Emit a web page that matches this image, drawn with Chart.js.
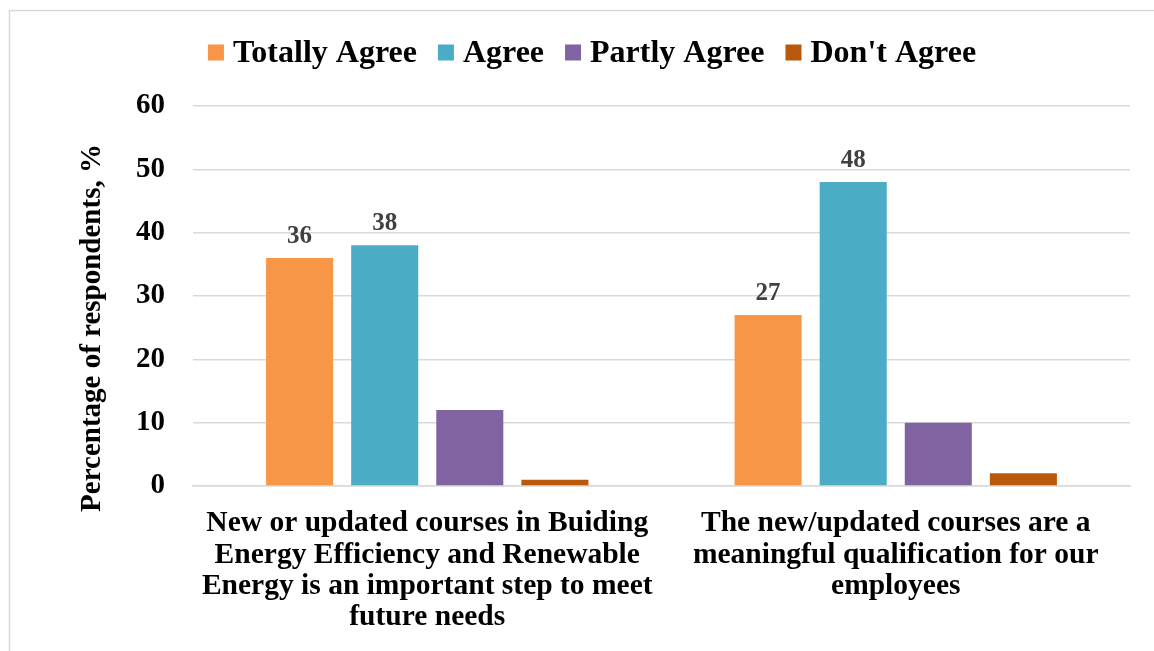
<!DOCTYPE html>
<html>
<head>
<meta charset="utf-8">
<style>
  html, body { margin: 0; padding: 0; background: #ffffff; }
  #wrap { position: relative; width: 1154px; height: 651px; }
</style>
<script src="https://cdn.jsdelivr.net/npm/chart.js@4/dist/chart.umd.min.js"></script>
</head>
<body>
<div id="wrap"><canvas id="chart" width="1154" height="651"></canvas></div>
<script>
// Survey statements (wrapped into lines for the category axis)
const categories = [
  ["New or updated courses in Buiding", "Energy Efficiency and Renewable", "Energy is an important step to meet", "future needs"],
  ["The new/updated courses are a", "meaningful qualification for our", "employees"]
];

// Share of respondents per answer, %
const totallyAgree = [36, 27];
const agree        = [38, 48];
const partlyAgree  = [12, 10];
const dontAgree    = [1, 2];

const seriesNames  = ["Totally Agree", "Agree", "Partly Agree", "Don't Agree"];
const seriesColors = ["#F79646", "#4BACC6", "#8064A2", "#B9590B"];
const labelledSeries = [true, true, false, false];

const yTicks = { min: 0, max: 60, step: 10 };
const yTitle = "Percentage of respondents, %";

const serif = "'Liberation Serif', 'Times New Roman', serif";

// Thin frame around the chart
const framePlugin = {
  id: 'frame',
  beforeDraw(chart) {
    const ctx = chart.ctx;
    ctx.save();
    ctx.strokeStyle = '#d9d9d9';
    ctx.lineWidth = 1.5;
    ctx.beginPath();
    ctx.moveTo(9.5, chart.height);
    ctx.lineTo(9.5, 10.5);
    ctx.lineTo(chart.width, 10.5);
    ctx.stroke();
    ctx.restore();
  }
};

// Compact legend row: square swatch, short gap, bold label
const legendRowPlugin = {
  id: 'legendRow',
  afterDraw(chart) {
    const ctx = chart.ctx;
    const box = 16, gap = 9, itemGap = 21, centerX = 592, midY = 52.5;
    ctx.save();
    ctx.font = "bold 32px " + serif;
    ctx.textBaseline = 'middle';
    ctx.textAlign = 'left';
    const items = chart.data.datasets.map(ds => ({
      text: ds.label,
      color: ds.backgroundColor,
      w: ctx.measureText(ds.label).width
    }));
    const total = items.reduce((s, it) => s + box + gap + it.w, 0) + itemGap * (items.length - 1);
    let x = centerX - total / 2;
    items.forEach(it => {
      ctx.fillStyle = it.color;
      ctx.fillRect(x, midY - box / 2, box, box);
      ctx.fillStyle = '#000000';
      ctx.fillText(it.text, x + box + gap, midY + 1);
      x += box + gap + it.w + itemGap;
    });
    ctx.restore();
  }
};

// Rotated value-axis caption, set a little below the plot's middle
const axisTitlePlugin = {
  id: 'axisTitle',
  afterDraw(chart) {
    const ctx = chart.ctx;
    const area = chart.chartArea;
    ctx.save();
    ctx.font = "bold 29px " + serif;
    ctx.fillStyle = '#000000';
    ctx.textAlign = 'center';
    ctx.textBaseline = 'middle';
    ctx.translate(93, (area.top + area.bottom) / 2 + 32);
    ctx.rotate(-Math.PI / 2);
    ctx.fillText(yTitle, 0, 0);
    ctx.restore();
  }
};

// Value labels above the bars of selected series
const valueLabelPlugin = {
  id: 'valueLabels',
  afterDatasetsDraw(chart) {
    const ctx = chart.ctx;
    ctx.save();
    ctx.font = "bold 25px " + serif;
    ctx.fillStyle = '#404040';
    ctx.textAlign = 'center';
    ctx.textBaseline = 'bottom';
    chart.data.datasets.forEach((ds, i) => {
      if (!ds.showValue) return;
      const meta = chart.getDatasetMeta(i);
      meta.data.forEach((bar, j) => {
        ctx.fillText(String(ds.data[j]), bar.x, bar.y - 9);
      });
    });
    ctx.restore();
  }
};

const seriesData = [totallyAgree, agree, partlyAgree, dontAgree];

new Chart(document.getElementById('chart'), {
  type: 'bar',
  data: {
    labels: categories,
    datasets: seriesNames.map((name, i) => ({
      label: name,
      data: seriesData[i],
      backgroundColor: seriesColors[i],
      borderWidth: 0,
      showValue: labelledSeries[i],
      categoryPercentage: 0.7265,
      barPercentage: 0.788
    }))
  },
  options: {
    responsive: false,
    animation: false,
    layout: { padding: { top: 106, right: 24, left: 0, bottom: 0 } },
    plugins: {
      legend: { display: false },
      tooltip: { enabled: false }
    },
    scales: {
      x: {
        grid: { display: false, drawTicks: false },
        border: { display: true, color: '#d9d9d9', width: 1.5 },
        ticks: {
          font: { family: serif, size: 29.5, weight: 'bold', lineHeight: 1.06 },
          color: '#000000',
          maxRotation: 0,
          autoSkip: false,
          padding: 22
        },
        afterFit(scale) { scale.height = 165; }
      },
      y: {
        min: yTicks.min,
        max: yTicks.max,
        ticks: {
          stepSize: yTicks.step,
          font: { family: serif, size: 29, weight: 'bold' },
          color: '#000000',
          padding: 28
        },
        grid: { color: '#d9d9d9', lineWidth: 1.5, drawTicks: false },
        border: { display: false },
        title: { display: false, text: yTitle },
        afterFit(scale) { scale.width = 193; }
      }
    }
  },
  plugins: [framePlugin, legendRowPlugin, axisTitlePlugin, valueLabelPlugin]
});
</script>
</body>
</html>
